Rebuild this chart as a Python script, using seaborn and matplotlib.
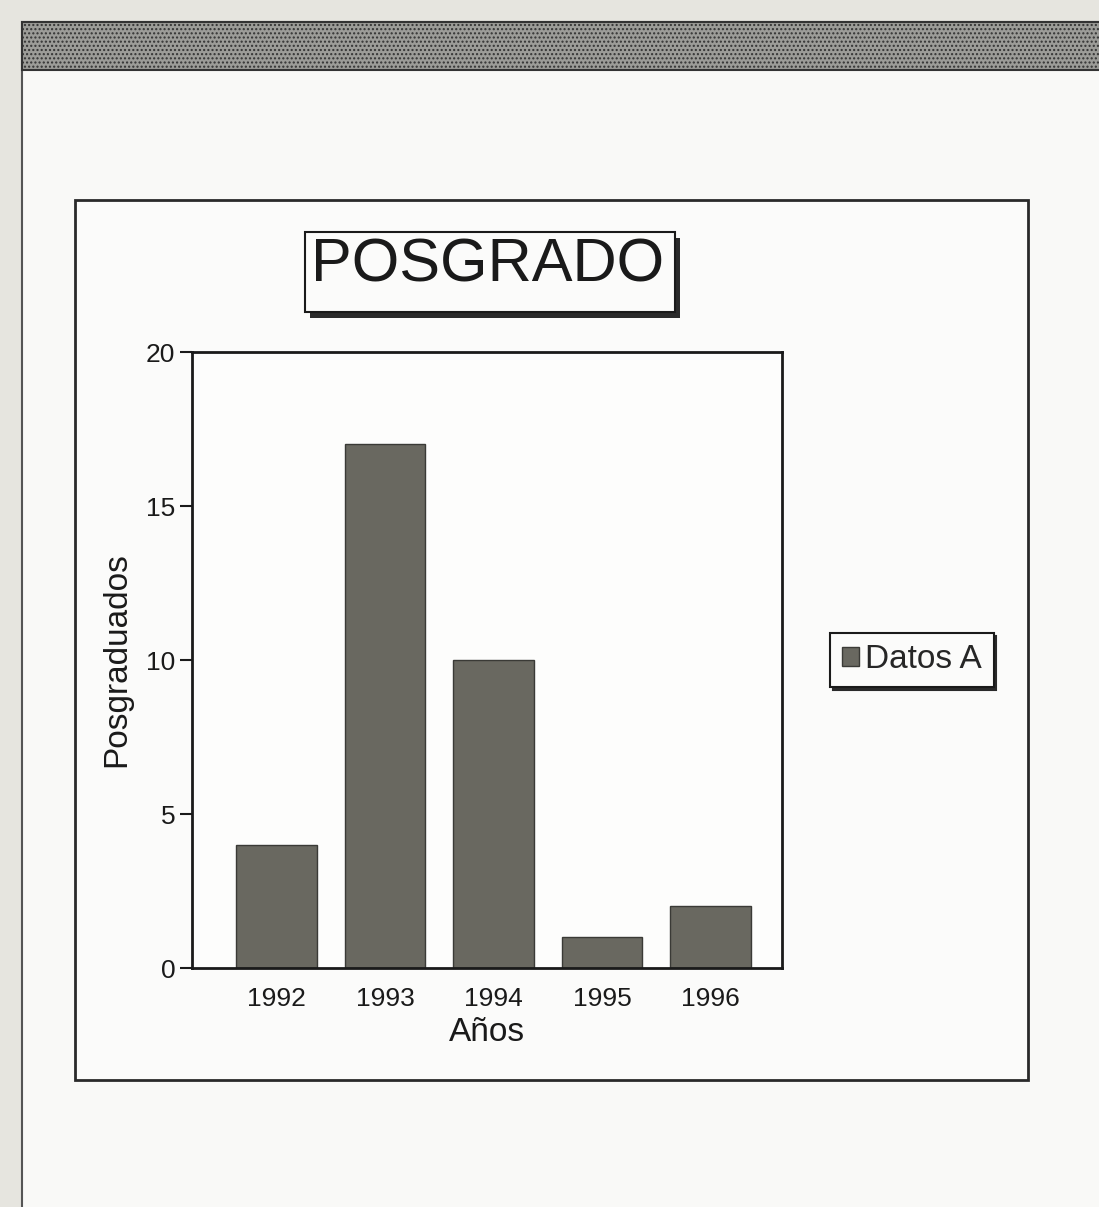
import numpy as np
import pandas as pd
import matplotlib
matplotlib.use("Agg")
import matplotlib.pyplot as plt
from matplotlib.patches import Rectangle
import seaborn as sns

# data
years = ["1992", "1993", "1994", "1995", "1996"]
posgraduados = [4, 17, 10, 1, 2]
series_name = "Datos A"
y_ticks = [0, 5, 10, 15, 20]

df = pd.DataFrame({"Años": years, "Posgraduados": posgraduados})

sns.set_style("white")
plt.rcParams["font.family"] = ["Liberation Sans", "DejaVu Sans"]

W, H = 1099, 1207
fig = plt.figure(figsize=(W / 100, H / 100), dpi=100)
fig.patch.set_facecolor("#e6e5df")

def px_rect(x0, y0, x1, y1, **kw):
    # rectangle in pixel coords (top-left origin) -> figure fraction
    r = Rectangle((x0 / W, 1 - y1 / H), (x1 - x0) / W, (y1 - y0) / H,
                  transform=fig.transFigure, **kw)
    fig.add_artist(r)
    return r

# page background: white panel, grey top band
px_rect(22, 22, W + 5, H + 5, facecolor="#f9f9f7", edgecolor="#555555", lw=1.5, zorder=0)
px_rect(22, 22, W + 5, 70, facecolor="#9c9c98", edgecolor="#333333", lw=1.5,
        hatch="....", zorder=1)

# chart frame
px_rect(75, 200, 1028, 1080, facecolor="#fbfbfa", edgecolor="#2a2a2a", lw=2, zorder=1)

# plot area
ax = fig.add_axes([192 / W, 1 - 968 / H, (782 - 192) / W, (968 - 352) / H])
ax.set_zorder(5)
ax.set_facecolor("#fdfdfc")
sns.barplot(data=df, x="Años", y="Posgraduados", color="#696860", width=0.74,
            saturation=1, label=series_name, ax=ax, edgecolor="#3a3a36", linewidth=1)

ax.set_ylim(0, 20)
ax.set_xlim(-0.78, 4.66)
ax.set_yticks(y_ticks)
ax.tick_params(axis="y", direction="out", length=9, width=1.5, left=True,
               labelsize=19, pad=3, colors="#1a1a1a")
ax.tick_params(axis="x", length=0, labelsize=19, pad=14, colors="#1a1a1a")
for s in ax.spines.values():
    s.set_color("#1a1a1a")
    s.set_linewidth(2)
ax.set_xlabel("Años", fontsize=24, labelpad=4, color="#1a1a1a")
ax.set_ylabel("Posgraduados", fontsize=24, labelpad=10, color="#1a1a1a")

# title box with shadow
px_rect(310, 238, 680, 318, facecolor="#2a2a2a", edgecolor="none", zorder=2)
px_rect(305, 232, 675, 312, facecolor="#fbfbfa", edgecolor="#1a1a1a", lw=1.5, zorder=3)
fig.text(488 / W, 1 - 266 / H, "POSGRADO", fontsize=44, ha="center", va="center",
         color="#1a1a1a", zorder=4)

# legend
leg = ax.legend(loc="center", bbox_to_anchor=(912 / W, 1 - 660 / H),
                bbox_transform=fig.transFigure, fontsize=24, frameon=True,
                fancybox=False, shadow={"color": "#2a2a2a", "alpha": 1},
                edgecolor="#1a1a1a", handlelength=0.5, handleheight=0.5,
                handletextpad=0.2, borderpad=0.35, borderaxespad=0)
leg.get_frame().set_linewidth(1.5)
leg.get_frame().set_facecolor("#fbfbfa")

fig.savefig("out.png", dpi=100, facecolor=fig.get_facecolor())
